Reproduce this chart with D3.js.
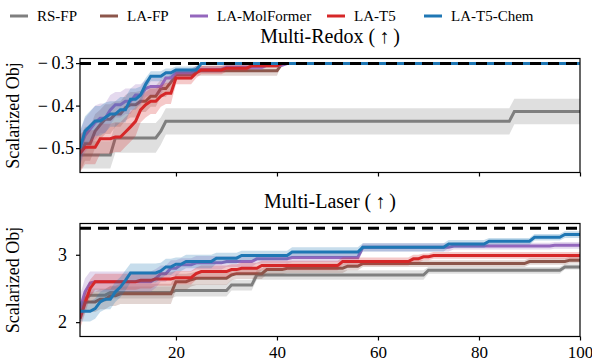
<!DOCTYPE html>
<html>
<head>
<meta charset="utf-8">
<script src="https://cdn.jsdelivr.net/npm/d3@7"></script>
<style>
body { margin:0; background:#fff; }
text { font-family:"Liberation Serif","Times New Roman",serif; fill:#000; }
</style>
</head>
<body>
<div id="container"></div>
<script>
// series names + colours
var names = ["RS-FP","LA-FP","LA-MolFormer","LA-T5","LA-T5-Chem"];
var colors = ["#7f7f7f","#8c564b","#9467bd","#d62728","#1f77b4"];

// [iteration where value changes, mean, band half width]
var redoxRS = [[1,-0.516,0.032],[8,-0.476,0.035],[17,-0.46,0.032],[18,-0.437,0.031],[87,-0.414,0.03]];
var redoxFP = [[1,-0.515,0.04],[2,-0.49,0.04],[4,-0.46,0.04],[5,-0.445,0.035],[6,-0.432,0.035],[8,-0.42,0.03],[10,-0.405,0.03],[11,-0.398,0.03],[13,-0.39,0.025],[15,-0.378,0.025],[17,-0.36,0.02],[19,-0.345,0.02],[20,-0.327,0.012],[24,-0.318,0.012],[41,-0.301,0]];
var redoxMF = [[1,-0.5,0.04],[2,-0.47,0.04],[3,-0.455,0.04],[4,-0.44,0.04],[5,-0.43,0.035],[7,-0.41,0.035],[8,-0.398,0.03],[10,-0.39,0.03],[12,-0.375,0.025],[14,-0.36,0.02],[15,-0.355,0.02],[18,-0.335,0.015],[20,-0.323,0.01],[24,-0.315,0.008],[30,-0.31,0.006],[38,-0.305,0.004],[42,-0.301,0]];
var redoxT5 = [[1,-0.512,0.045],[2,-0.498,0.04],[5,-0.478,0.035],[8,-0.474,0.035],[10,-0.462,0.035],[11,-0.45,0.035],[12,-0.437,0.035],[13,-0.41,0.03],[14,-0.398,0.03],[15,-0.39,0.03],[17,-0.378,0.025],[18,-0.371,0.025],[20,-0.335,0.015],[24,-0.323,0.012],[25,-0.316,0.01],[30,-0.312,0.008],[35,-0.306,0.005],[41,-0.301,0]];
var redoxT5C = [[1,-0.5,0.04],[2,-0.46,0.035],[3,-0.448,0.035],[4,-0.436,0.035],[6,-0.428,0.035],[7,-0.42,0.03],[9,-0.41,0.03],[11,-0.385,0.025],[13,-0.375,0.02],[14,-0.35,0.015],[15,-0.331,0.012],[18,-0.323,0.01],[20,-0.316,0.008],[25,-0.301,0]];

var laserRS = [[1,2.15,0.12],[2,2.35,0.1],[3,2.4,0.1],[7,2.44,0.09],[20,2.47,0.09],[31,2.55,0.08],[36,2.7,0.07],[70,2.77,0.05],[97,2.82,0.04]];
var laserFP = [[1,2.12,0.15],[2,2.3,0.15],[5,2.34,0.15],[7,2.39,0.15],[9,2.42,0.15],[20,2.6,0.12],[23,2.63,0.1],[24,2.65,0.1],[31,2.7,0.08],[32,2.72,0.08],[38,2.78,0.07],[42,2.8,0.07],[54,2.83,0.06],[57,2.87,0.05],[90,2.9,0.05],[98,2.92,0.05]];
var laserMF = [[1,2.2,0.2],[2,2.45,0.2],[3,2.58,0.17],[4,2.6,0.15],[16,2.65,0.14],[17,2.72,0.12],[19,2.8,0.12],[21,2.85,0.1],[24,2.88,0.1],[30,2.9,0.08],[36,2.94,0.07],[43,2.96,0.07],[57,3.11,0.06],[75,3.13,0.05],[95,3.14,0.05]];
var laserT5 = [[1,2.05,0.15],[2,2.28,0.15],[3,2.5,0.13],[4,2.6,0.12],[13,2.62,0.12],[16,2.64,0.1],[20,2.66,0.1],[24,2.72,0.09],[25,2.75,0.09],[31,2.78,0.08],[33,2.8,0.08],[37,2.84,0.07],[53,2.9,0.06],[67,2.94,0.06],[69,2.97,0.05],[71,2.99,0.05]];
var laserT5C = [[1,2.16,0.15],[4,2.2,0.15],[5,2.3,0.15],[6,2.34,0.15],[8,2.45,0.15],[9,2.52,0.15],[10,2.62,0.15],[11,2.73,0.14],[17,2.76,0.12],[18,2.82,0.12],[20,2.86,0.1],[22,2.9,0.1],[28,2.95,0.08],[33,2.99,0.07],[43,3.04,0.07],[57,3.11,0.06],[74,3.16,0.06],[82,3.2,0.05],[91,3.26,0.05],[97,3.3,0.05]];

var redoxBest = -0.301, laserBest = 3.392;
var redoxTicks = [-0.5,-0.4,-0.3], laserTicks = [2,3];
var xTicks = [20,40,60,80,100];
var nIter = 100;

var svg = d3.select("#container").append("svg")
			.attr("width",592)
			.attr("height",362);

// hold each value until the next change point
function expand(steps) {
	var out = [], k = 0;
	for(var i=1;i<=nIter;i++) {
		while(k+1<steps.length && steps[k+1][0]<=i) k++;
		out.push({i:i, m:steps[k][1], s:steps[k][2]});
	}
	return out;
}

var x = d3.scaleLinear().domain([1,nIter]).range([80,580]);

function panel(top, bottom, domain, series, best, yticks, fmt, ypad, title, label, id, showX) {
	var y = d3.scaleLinear().domain(domain).range([bottom,top]);
	svg.append("clipPath").attr("id",id).append("rect")
		.attr("x",80).attr("y",top).attr("width",500).attr("height",bottom-top);
	var g = svg.append("g").attr("clip-path","url(#"+id+")");
	var area = d3.area().x(function(d){return x(d.i);})
		.y0(function(d){return y(d.m-d.s);}).y1(function(d){return y(d.m+d.s);});
	var line = d3.line().x(function(d){return x(d.i);}).y(function(d){return y(d.m);});
	series.forEach(function(s,n) {
		var pts = expand(s);
		g.append("path").datum(pts).attr("d",area)
			.attr("fill",colors[n]).attr("fill-opacity",0.25).attr("stroke","none");
		g.append("path").datum(pts).attr("d",line)
			.attr("fill","none").attr("stroke",colors[n]).attr("stroke-width",3);
	});
	g.append("line").attr("x1",x(1)).attr("x2",x(nIter)).attr("y1",y(best)).attr("y2",y(best))
		.attr("stroke","#000").attr("stroke-width",3).attr("stroke-dasharray","11,7");

	svg.append("rect").attr("x",80).attr("y",top).attr("width",500).attr("height",bottom-top)
		.attr("fill","none").attr("stroke","#000").attr("stroke-width",1.2);

	var ya = svg.append("g").attr("transform","translate(80,0)")
		.call(d3.axisLeft(y).tickValues(yticks).tickFormat(fmt).tickSize(4).tickPadding(ypad));
	var xa = svg.append("g").attr("transform","translate(0,"+bottom+")")
		.call(d3.axisBottom(x).tickValues(xTicks).tickSize(4).tickPadding(5)
			.tickFormat(showX ? d3.format("d") : ""));
	[ya,xa].forEach(function(a) {
		a.select(".domain").remove();
		a.selectAll("line").attr("stroke-width",1.2);
		a.selectAll("text").attr("font-family","Liberation Serif").attr("font-size",18);
	});
	xa.selectAll("text").attr("font-size",17);

	svg.append("text").attr("x",330).attr("y",top-16).attr("text-anchor","middle")
		.attr("font-size",20).text(title);
	svg.append("text").attr("transform","translate(19,"+((top+bottom)/2)+") rotate(-90)")
		.attr("text-anchor","middle").attr("font-size",18).text(label);
}

panel(58.5, 172.5, [-0.5574,-0.2892], [redoxRS,redoxFP,redoxMF,redoxT5,redoxT5C], redoxBest,
	redoxTicks, function(d){return "\u2212\u2009" + d3.format(".1f")(-d);}, 2,
	"Multi-Redox (\u2009\u2191\u2009)", "Scalarized Obj", "clipA", false);
panel(223.5, 336.5, [1.787,3.464], [laserRS,laserFP,laserMF,laserT5,laserT5C], laserBest,
	laserTicks, d3.format("d"), 9, "Multi-Laser (\u2009\u2191\u2009)", "Scalarized Obj", "clipB", true);

// legend along the top
var legendX = [10,100,190,327,424];
var leg = svg.append("g");
names.forEach(function(nm,n) {
	leg.append("line").attr("x1",legendX[n]).attr("x2",legendX[n]+18)
		.attr("y1",16).attr("y2",16).attr("stroke",colors[n]).attr("stroke-width",3);
	leg.append("text").attr("x",legendX[n]+27).attr("y",21).attr("font-size",15).text(nm);
});
</script>
</body>
</html>
